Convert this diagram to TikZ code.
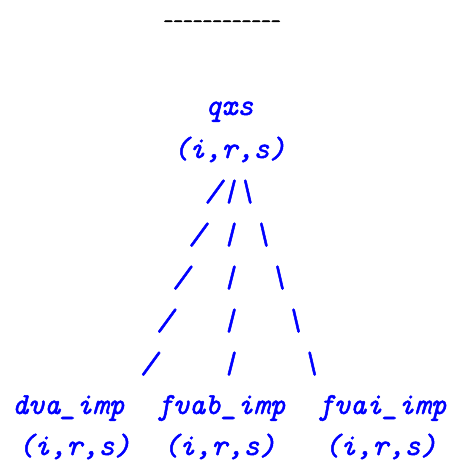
\documentclass[tikz,border=0pt]{standalone}
\usepackage{fontspec}
% typewriter italic for the tree, upright typewriter for the rule above it
\newfontfamily\treefont{lmmono10-italic}[Extension=.otf, FakeBold=1.6]
\newfontfamily\rulefont{lmmono10-regular}[Extension=.otf, FakeBold=3]
\begin{document}
\begin{tikzpicture}[x=1pt,y=-1pt,
  treeline/.style={anchor=base west, inner sep=0pt, outer sep=0pt,
    text=blue, font=\treefont\fontsize{30.67}{43}\selectfont},
  ruleline/.style={anchor=base west, inner sep=0pt, outer sep=0pt,
    text=black, font=\rulefont\fontsize{18.6}{20}\selectfont}]
  \useasboundingbox (0,0) rectangle (452,461);
  % one character cell is 16.1 wide, rows are 43 apart
  \def\cx#1{12+#1*16.1}
  \node[ruleline] (rule) at (163.5,27) {------------};
  \node[treeline] (root)     at ({\cx{12}},115) {qxs};
  \node[treeline] (rootidx)  at ({\cx{10}},158) {(i,r,s)};
  \node[treeline] (branch1)  at ({\cx{12}},201) {/|\textbackslash};
  \node[treeline] (branch2)  at ({\cx{11}},244) {/~|~\textbackslash};
  \node[treeline] (branch3)  at ({\cx{10}},287) {/~~|~~\textbackslash};
  \node[treeline] (branch4)  at ({\cx{9}},330)  {/~~~|~~~\textbackslash};
  \node[treeline] (branch5)  at ({\cx{8}},373)  {/~~~~|~~~~\textbackslash};
  \node[treeline] (leafa)    at ({\cx{0}},414)  {dva\_imp};
  \node[treeline] (leafb)    at ({\cx{9}},414)  {fvab\_imp};
  \node[treeline] (leafc)    at ({\cx{19}},414) {fvai\_imp};
  \node[treeline] (leafaidx) at (18,455)  {(i,r,s)};
  \node[treeline] (leafbidx) at (163,455) {(i,r,s)};
  \node[treeline] (leafcidx) at (324,455) {(i,r,s)};
\end{tikzpicture}
\end{document}
